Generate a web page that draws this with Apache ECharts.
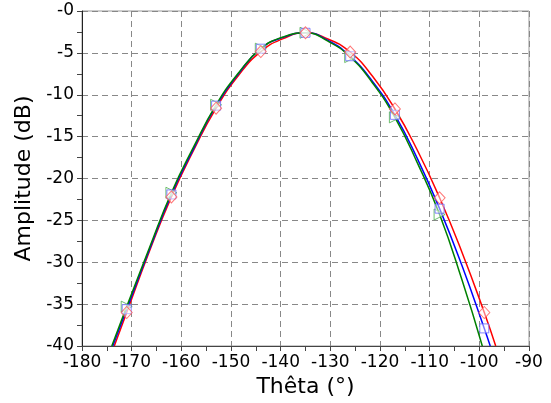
<!DOCTYPE html>
<html><head><meta charset="utf-8">
<script src="https://cdn.jsdelivr.net/npm/echarts@6/dist/echarts.min.js"></script>
<style>html,body{margin:0;padding:0;background:#fff}#c{width:551px;height:403px}</style>
</head><body><div id="c"></div>
<script>
// Marker angles (deg) and marker values (dB)
const markerTheta = [-171, -162, -153, -144, -135, -126, -117, -108, -99];
const redMarks   = [-36.0, -22.2, -11.6, -4.85, -2.6, -4.9, -11.7, -22.3, -36.0];
const blueMarks  = [-35.6, -21.9, -11.3, -4.5, -2.6, -5.4, -12.4, -23.6, -37.9];
const greenMarks = [-35.3, -21.7, -11.2, -4.5, -2.6, -5.5, -12.7, -24.3, null];

// Curve samples (deg, dB)
const redTheta   = [-173.5, -171, -166.5, -162, -157.5, -153, -148.5, -144, -139.5, -135, -130.5, -126, -121.5, -117, -112.5, -108, -103.5, -99, -96.7];
const redCurve   = [-40, -36.0, -28.8, -22.2, -16.6, -11.6, -7.7, -4.85, -3.3, -2.6, -3.35, -4.9, -7.8, -11.7, -16.6, -22.3, -28.8, -36.0, -40];
const blueTheta  = [-173.8, -171, -166.5, -162, -157.5, -153, -148.5, -144, -139.5, -135, -130.5, -126, -121.5, -117, -112.5, -108, -103.5, -99, -97.8];
const blueCurve  = [-40, -35.6, -28.6, -21.9, -16.4, -11.3, -7.5, -4.5, -3.15, -2.6, -3.5, -5.4, -8.4, -12.4, -17.6, -23.6, -30.4, -37.9, -40];
const greenTheta = [-174.0, -171, -166.5, -162, -157.5, -153, -148.5, -144, -139.5, -135, -130.5, -126, -121.5, -117, -112.5, -108, -103.5, -99.4];
const greenCurve = [-40, -35.3, -28.4, -21.7, -16.2, -11.2, -7.4, -4.5, -3.1, -2.6, -3.6, -5.5, -8.6, -12.7, -18.1, -24.3, -32.1, -40];

const xTicks = [-180, -90, 10];
const yTicks = [-40, 0, 5];

const zip = (xs, ys) => xs.map((x, i) => [x, ys[i]]).filter(p => p[1] !== null);
const FONT = 'DejaVu Sans';
const chart = echarts.init(document.getElementById('c'));
chart.setOption({
  animation: false,
  grid: { left: 82, right: 22, top: 11, bottom: 56, show: true, borderColor: '#999', borderWidth: 1 },
  xAxis: {
    type: 'value', min: xTicks[0], max: xTicks[1], interval: xTicks[2],
    name: 'Thêta (°)', nameLocation: 'middle', nameGap: 30,
    nameTextStyle: { fontFamily: FONT, fontSize: 22, color: '#000' },
    axisLine: { show: true, onZero: false, lineStyle: { color: '#444' } },
    axisTick: { show: true, length: 5, lineStyle: { color: '#444' } },
    minorTick: { show: true, splitNumber: 2, length: 5, lineStyle: { color: '#444' } },
    axisLabel: { fontFamily: FONT, fontSize: 17, color: '#000', margin: 8 },
    splitLine: { show: true, lineStyle: { color: '#888', type: [6, 4] } }
  },
  yAxis: {
    type: 'value', min: yTicks[0], max: yTicks[1], interval: yTicks[2],
    name: 'Amplitude (dB)', nameLocation: 'middle', nameGap: 44,
    nameTextStyle: { fontFamily: FONT, fontSize: 22, color: '#000' },
    axisLine: { show: true, onZero: false, lineStyle: { color: '#222' } },
    axisTick: { show: true, length: 5, lineStyle: { color: '#444' } },
    minorTick: { show: true, splitNumber: 2, length: 5, lineStyle: { color: '#444' } },
    axisLabel: { fontFamily: FONT, fontSize: 17, color: '#000', margin: 8,
      formatter: v => (v === 0 ? '-0' : String(v)) },
    splitLine: { show: true, lineStyle: { color: '#888', type: [6, 4] } }
  },
  series: [
    { type: 'line', data: zip(redTheta, redCurve), smooth: 0.5, showSymbol: false, lineStyle: { color: '#ff0000', width: 1.5 }, z: 3 },
    { type: 'line', data: zip(blueTheta, blueCurve), smooth: 0.5, showSymbol: false, lineStyle: { color: '#0000ff', width: 1.5 }, z: 4 },
    { type: 'line', data: zip(greenTheta, greenCurve), smooth: 0.5, showSymbol: false, lineStyle: { color: '#008000', width: 1.5 }, z: 5 },
    { type: 'scatter', data: zip(markerTheta, greenMarks), symbol: 'triangle', symbolRotate: -90, symbolSize: 11,
      itemStyle: { color: 'rgba(255,255,255,0.6)', borderColor: '#4caf4c', borderWidth: 1 }, z: 6 },
    { type: 'scatter', data: zip(markerTheta, blueMarks), symbol: 'rect', symbolSize: 9,
      itemStyle: { color: 'rgba(255,255,255,0.6)', borderColor: '#6666ff', borderWidth: 1 }, z: 7 },
    { type: 'scatter', data: zip(markerTheta, redMarks), symbol: 'diamond', symbolSize: [11, 12],
      itemStyle: { color: 'rgba(255,255,255,0.6)', borderColor: '#ff5555', borderWidth: 1 }, z: 8 }
  ]
});
</script></body></html>
